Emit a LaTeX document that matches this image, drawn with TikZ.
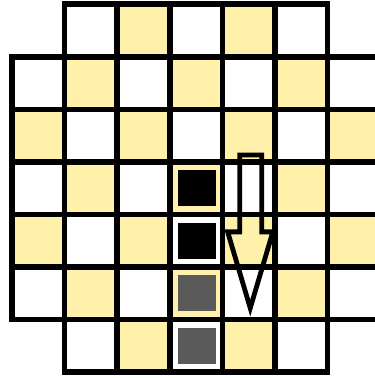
\documentclass[tikz,border=0pt]{standalone}
\usepackage{xcolor}
\usepackage{tikz}
\definecolor{boardyellow}{RGB}{255,240,170}
\definecolor{stonegray}{RGB}{90,90,90}

\begin{document}
\begin{tikzpicture}
	\useasboundingbox (-0.23,0.08) rectangle (6.90,-7.11);
	\clip (-0.23,0.08) rectangle (6.90,-7.11);
	
	% rows of the board: row/first column/last column
	\foreach \r/\a/\b in {0/1/5, 1/0/6, 2/0/6, 3/0/6, 4/0/6, 5/0/6, 6/1/5}{
		\foreach \c in {\a,...,\b}{
			\pgfmathtruncatemacro{\s}{mod(\r+\c,2)}
			\ifnum\s=0
				\fill[boardyellow] (\c,-\r) rectangle ++(1,-1);
			\fi
			\draw[line width=3pt] (\c,-\r) rectangle ++(1,-1);
		}
	}
	
	% stones in the column
	\foreach \r/\col in {3/black, 4/black, 5/stonegray, 6/stonegray}{
		\fill[\col] (3.15,-\r-0.16) rectangle (3.87,-\r-0.84);
	}
	
	% hollow arrow
	\coordinate (T1) at (4.33,-2.87);
	\coordinate (T2) at (4.75,-2.87);
	\coordinate (H1) at (4.10,-4.33);
	\coordinate (H2) at (4.96,-4.33);
	\coordinate (Tip) at (4.53,-5.78);
	\draw[line width=2.6pt, line join=miter]
		(T1) -- (T2) -- (4.75,-4.33) -- (H2) -- (Tip) -- (H1) -- (4.33,-4.33) -- cycle;
\end{tikzpicture}
\end{document}
